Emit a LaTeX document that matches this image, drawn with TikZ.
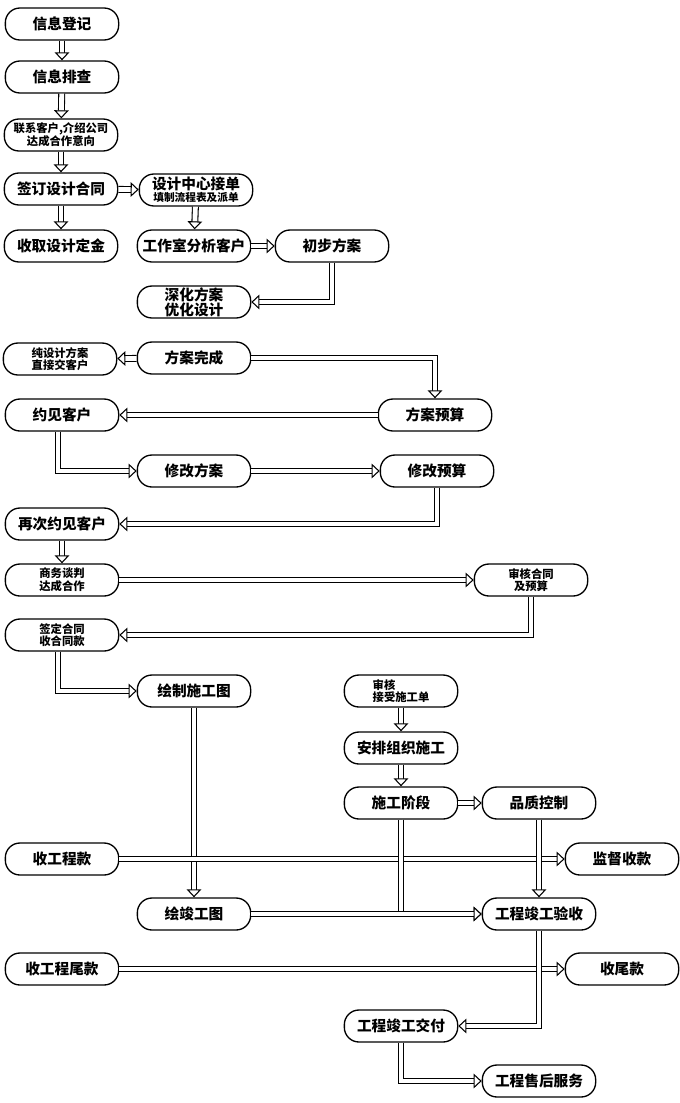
\documentclass[tikz,border=0pt]{standalone}
\usepackage{fontspec}
\setmainfont{Noto Sans CJK SC}
\usetikzlibrary{arrows.meta,positioning}

\begin{document}
\begin{tikzpicture}[x=0.75pt,y=-0.75pt,
box/.style={draw,line width=1pt,rectangle,rounded corners=11pt,minimum width=85pt,minimum height=24pt,font=\bfseries\fontsize{11}{12}\selectfont,align=center,inner sep=1pt},
tbox/.style={box,font=\bfseries\fontsize{8.5}{9.5}\selectfont},
arr/.style={draw,line width=0.8pt,double=white,double distance=3.6pt,-{Triangle[length=6pt,width=11pt,fill=white,line width=0.8pt]}}]
\fill[white] (0,0) rectangle (680,1103);
% design stage
\node (reg) [box] at (62,24) {信息登记};
\node (chk) [box] at (62,77) {信息排查};
\node (cont) [tbox] at (61,135) {联系客户,介绍公司\\达成合作意向};
\node (sign) [box] at (61,189) {签订设计合同};
\node (dep) [box] at (61,246) {收取设计定金};
\node (ctr) [box,font=\bfseries\fontsize{11}{11}\selectfont] at (196,190) {设计中心接单\\[-2pt]{\fontsize{8}{8}\selectfont 填制流程表及派单}};
\node (ana) [box] at (194,246) {工作室分析客户};
\node (draft) [box] at (332,246) {初步方案};
\node (deep) [box,font=\bfseries\fontsize{11}{11}\selectfont] at (194,302) {深化方案\\优化设计};
\node (done) [box] at (194,358) {方案完成};
\node (pure) [tbox] at (60,359) {纯设计方案\\直接交客户};
\node (bud) [box] at (435,415) {方案预算};
\node (meet) [box] at (62,415) {约见客户};
\node (mplan) [box] at (194,471) {修改方案};
\node (mbud) [box] at (437,471) {修改预算};
\node (meet2) [box] at (62,524) {再次约见客户};
\node (neg) [tbox] at (62,580) {商务谈判\\达成合作};
\node (audit) [tbox] at (531,580) {审核合同\\及预算};
\node (contract) [tbox] at (62,635) {签定合同\\收合同款};
% construction stage
\node (plan) [box] at (194,691) {绘制施工图};
\node (acc) [tbox,align=left] at (401,691) {审核\\接受施工单};
\node (org) [box] at (401,748) {安排组织施工};
\node (build) [box] at (401,803) {施工阶段};
\node (qual) [box] at (539,803) {品质控制};
\node (pay) [box] at (62,859) {收工程款};
\node (sup) [box] at (622,859) {监督收款};
\node (asb) [box] at (194,914) {绘竣工图};
\node (insp) [box] at (539,914) {工程竣工验收};
\node (rest) [box] at (62,969) {收工程尾款};
\node (restp) [box] at (622,969) {收尾款};
\node (hand) [box] at (401,1026) {工程竣工交付};
\node (serv) [box] at (539,1081) {工程售后服务};

\draw[arr] (reg) -- (chk);
\draw[arr] (chk) -- (cont);
\draw[arr] (cont) -- (sign);
\draw[arr] (sign) -- (dep);
\draw[arr] (sign) -- (ctr);
\draw[arr] (ctr) -- (ana);
\draw[arr] (ana) -- (draft);
\draw[arr] (draft.south) |- (deep.east);
\draw[arr] (done) -- (pure);
\draw[arr] (done.east) -| (bud.north);
\draw[arr] (bud) -- (meet);
\draw[arr] ([xshift=-3pt]meet.south) |- (mplan.west);
\draw[arr] (mplan) -- (mbud);
\draw[arr] (mbud.south) |- (meet2.east);
\draw[arr] (meet2) -- (neg);
\draw[arr] (neg) -- (audit);
\draw[arr] (audit.south) |- (contract.east);
\draw[arr] ([xshift=-3pt]contract.south) |- (plan.west);
\draw[arr] (plan) -- (asb);
\draw[arr] (acc) -- (org);
\draw[arr] (org) -- (build);
\draw[arr] (build) -- (qual);
\draw[arr] (pay) -- (sup);
\draw[arr] (qual) -- (insp);
\draw[arr] (build.south) |- (insp.west);
\draw[arr] (asb) -- (insp);
\draw[arr] (rest) -- (restp);
\draw[arr] (insp.south) |- (hand.east);
\draw[arr] (hand.south) |- (serv.west);
\end{tikzpicture}
\end{document}
